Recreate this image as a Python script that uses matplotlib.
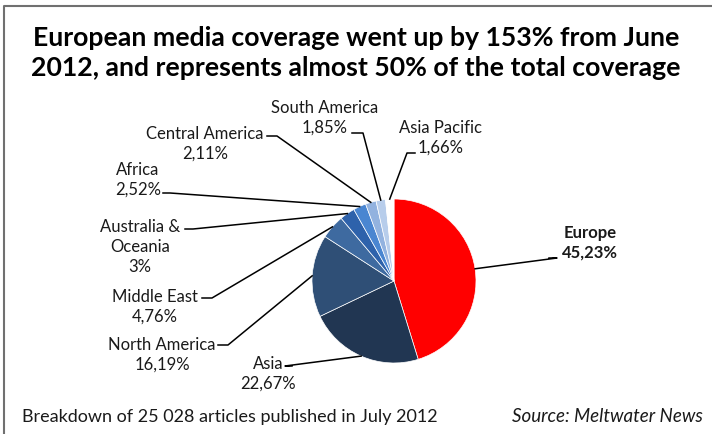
import matplotlib.pyplot as plt
import numpy as np

plt.rcParams['font.family'] = ['Lato', 'DejaVu Sans']

regions = ['Europe', 'Asia', 'North America', 'Middle East', 'Australia &\nOceania',
           'Africa', 'Central America', 'South America', 'Asia Pacific']
shares = [45.23, 22.67, 16.19, 4.76, 3.00, 2.52, 2.11, 1.85, 1.66]
share_text = ['45,23%', '22,67%', '16,19%', '4,76%', '3%', '2,52%', '2,11%', '1,85%', '1,66%']
colors = ['#ff0000', '#213652', '#2f4f76', '#3e6aa0', '#2e62ab',
          '#4a86d1', '#92b2df', '#b7cdeb', '#ffffff']

# layout in pixels (y measured from the top of the picture)
W, H = 712, 435
center = (394, 282)
radius = 82
label_pos = [(590, 243), (268, 374), (162, 355), (155, 307), (140, 247),
             (138, 180), (205, 144), (325, 118), (441, 138)]
leader_end = [(549, 259), (292, 367), (218, 346), (202, 299), (185, 230),
              (163, 194), (267, 137), (352, 134), (415, 154)]
elbow = [(557, 259), (285, 367), (228, 346), (212, 299), (193, 230),
         (170, 194), (277, 137), (363, 134), (407, 154)]

fig = plt.figure(figsize=(W / 100, H / 100), dpi=100)
ax = fig.add_axes([0, 0, 1, 1])


def py(y):
    return H - y


wedges, _ = ax.pie(shares, colors=colors, startangle=90, counterclock=False,
                   center=(center[0], py(center[1])), radius=radius,
                   wedgeprops=dict(edgecolor='white', linewidth=0.5))
ax.set_xlim(0, W)
ax.set_ylim(0, H)
ax.set_aspect('equal')
ax.axis('off')

for i, w in enumerate(wedges):
    mid = np.deg2rad((w.theta1 + w.theta2) / 2)
    ex = center[0] + radius * np.cos(mid)
    ey = py(center[1]) + radius * np.sin(mid)
    ax.plot([ex, elbow[i][0], leader_end[i][0]],
            [ey, py(elbow[i][1]), py(leader_end[i][1])], color='black', lw=1.1)
    bold = 'bold' if i == 0 else 'normal'
    ax.text(label_pos[i][0], py(label_pos[i][1]), regions[i] + '\n' + share_text[i],
            ha='center', va='center', fontsize=12, fontweight=bold,
            linespacing=1.3, color='#1a1a1a')

ax.text(356, py(53), 'European media coverage went up by 153% from June\n'
        '2012, and represents almost 50% of the total coverage',
        ha='center', va='center', fontsize=19.2, fontweight='bold',
        linespacing=1.25, color='black')
ax.text(22, py(417), 'Breakdown of 25 028 articles published in July 2012',
        ha='left', va='center', fontsize=13, color='#1a1a1a')
ax.text(703, py(417), 'Source: Meltwater News', ha='right', va='center',
        fontsize=13.5, style='italic', color='#1a1a1a')

# frame
ax.plot([4, 4, W], [0, py(7), py(7)], color='#707070', lw=1.5)

fig.savefig('out.png', dpi=100)
